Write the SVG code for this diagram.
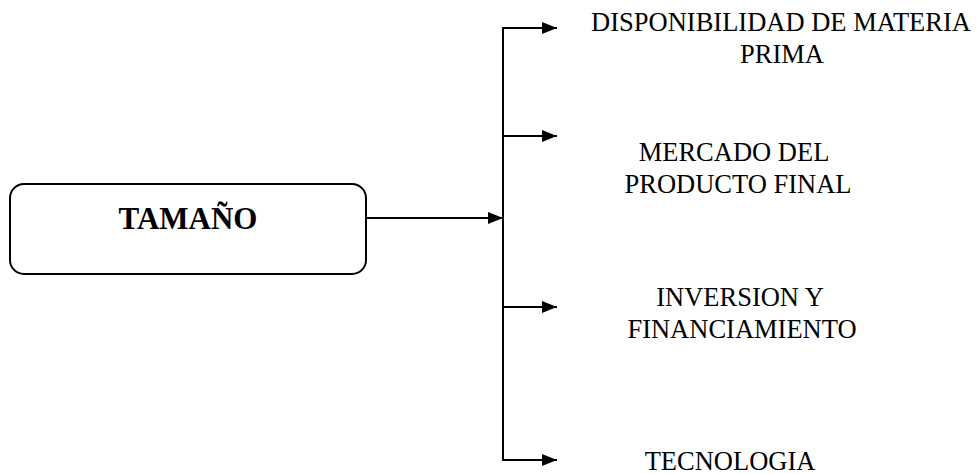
<svg xmlns="http://www.w3.org/2000/svg" width="976" height="474" viewBox="0 0 976 474">
  <style>
    .box { fill: #ffffff; stroke: #000000; stroke-width: 2; }
    .title { font-family: "Liberation Serif", "Times New Roman", serif; font-size: 31px; font-weight: bold; fill: #000000; text-anchor: middle; }
    .label { font-family: "Liberation Serif", "Times New Roman", serif; font-size: 26.5px; fill: #000000; text-anchor: middle; }
    .wire { fill: none; stroke: #000000; stroke-width: 2; }
  </style>
  <defs>
    <marker id="arrow" viewBox="0 0 15 12" refX="15" refY="6" markerWidth="15" markerHeight="12" markerUnits="userSpaceOnUse" orient="auto">
      <path d="M0,0 L15,6 L0,12 Z" fill="#000000"/>
    </marker>
  </defs>

  <rect width="976" height="474" fill="#ffffff"/>

  <g id="tamano">
    <rect class="box" x="10" y="184" width="356" height="90" rx="14" ry="14"/>
    <text class="title" x="188" y="229">TAMAÑO</text>
  </g>

  <g id="connectors">
    <line class="wire" x1="366" y1="218" x2="503" y2="218" marker-end="url(#arrow)"/>
    <line class="wire" x1="503" y1="27" x2="503" y2="461"/>
    <line class="wire" x1="502" y1="28" x2="557" y2="28" marker-end="url(#arrow)"/>
    <line class="wire" x1="502" y1="136" x2="557" y2="136" marker-end="url(#arrow)"/>
    <line class="wire" x1="502" y1="307" x2="557" y2="307" marker-end="url(#arrow)"/>
    <line class="wire" x1="502" y1="460" x2="557" y2="460" marker-end="url(#arrow)"/>
  </g>

  <g id="materia-prima">
    <text class="label" x="781" y="31">DISPONIBILIDAD DE MATERIA</text>
    <text class="label" x="782" y="63">PRIMA</text>
  </g>

  <g id="mercado">
    <text class="label" x="734" y="161">MERCADO DEL</text>
    <text class="label" x="738" y="193">PRODUCTO FINAL</text>
  </g>

  <g id="inversion">
    <text class="label" x="740" y="306">INVERSION Y</text>
    <text class="label" x="742" y="338">FINANCIAMIENTO</text>
  </g>

  <g id="tecnologia">
    <text class="label" x="730" y="470">TECNOLOGIA</text>
  </g>
</svg>
